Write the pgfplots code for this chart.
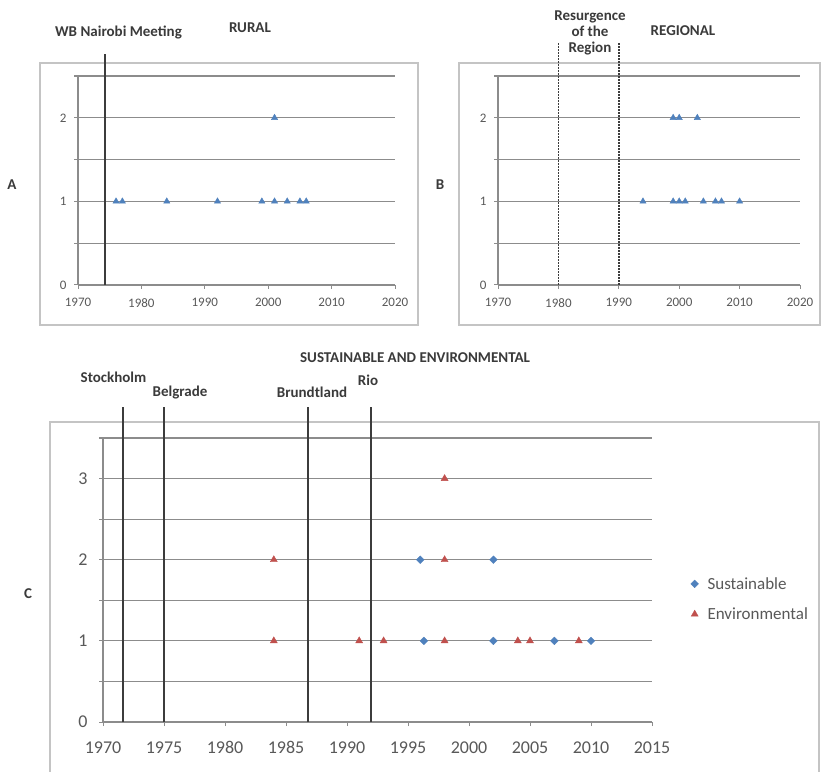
\documentclass[border=0pt]{standalone}
\usepackage{pgfplots}
\pgfplotsset{compat=1.18}
\usepackage{fontspec}
\setmainfont{Carlito}
\definecolor{xblue}{HTML}{4F81BD}
\definecolor{xred}{HTML}{C0504D}
\definecolor{gridc}{HTML}{8C8C8C}
\definecolor{txt}{HTML}{3A3A3A}
\definecolor{tickc}{HTML}{595959}
\definecolor{boxc}{HTML}{C4C4C4}
\definecolor{vlc}{HTML}{3C3C3C}

\pgfplotsset{
  excel/.style={
    scale only axis,
    axis x line*=bottom, axis y line*=left,
    axis line style={gridc, line width=1.2pt, -},
    tick align=outside,
    major tick length=4pt,
    minor tick length=4pt,
    tick style={gridc, line width=1pt},
    ymajorgrids, yminorgrids,
    major grid style={gridc, line width=1.2pt},
    minor grid style={gridc, line width=1.2pt},
    /pgf/number format/assume math mode=true,
    /pgf/number format/1000 sep={},
    ticklabel style={text=tickc},
    clip=false,
  },
  smallfont/.style={ticklabel style={font=\fontsize{13}{15}\selectfont},
    xticklabel style={yshift=-6pt}, yticklabel style={xshift=-4pt}},
  bigfont/.style={ticklabel style={font=\fontsize{18}{20}\selectfont},
    xticklabel style={yshift=-12pt}, yticklabel style={xshift=-8pt}},
  topgrid/.style={gridc, line width=1.2pt, forget plot},
}
\tikzset{ttl/.style={text=txt, font=\fontsize{15}{16}\selectfont\bfseries, inner sep=0pt}}

\begin{document}
\begin{tikzpicture}
\path[use as bounding box] (0,0) rectangle (821pt,771pt);
\fill[white] (0,0) rectangle (821pt,771pt);
% outer boxes
\draw[boxc, line width=1.5pt] (40pt,446pt) rectangle (418pt,708pt);
\draw[boxc, line width=1.5pt] (459pt,446pt) rectangle (820pt,708pt);
\draw[boxc, line width=1.5pt] (50pt,-5pt) rectangle (819pt,349pt);

% ---------- A: RURAL ----------
\begin{axis}[excel, smallfont, at={(78pt,486pt)}, anchor=south west,
  width=317pt, height=209pt,
  xmin=1970, xmax=2020, ymin=0, ymax=2.5,
  xtick={1970,1980,1990,2000,2010,2020},
  ytick={0,1,2}, minor ytick={0.5,1.5}]
\addplot[topgrid] coordinates {(1969.37,2.5) (2020,2.5)};
\addplot[vlc, line width=2pt] coordinates {(1974.3,0) (1974.3,2.76)};
\addplot[only marks, mark=triangle*, mark size=3.6pt, color=xblue]
  coordinates {(1976,1) (1977,1) (1984,1) (1992,1) (1999,1) (2001,1) (2003,1) (2005,1) (2006,1) (2001,2)};
\end{axis}

% ---------- B: REGIONAL ----------
\begin{axis}[excel, smallfont, at={(498pt,486pt)}, anchor=south west,
  width=302pt, height=209pt,
  xmin=1970, xmax=2020, ymin=0, ymax=2.5,
  xtick={1970,1980,1990,2000,2010,2020},
  ytick={0,1,2}, minor ytick={0.5,1.5}]
\addplot[topgrid] coordinates {(1969.34,2.5) (2020,2.5)};
\addplot[vlc, line width=1.8pt, dash pattern=on 1.5pt off 1.5pt] coordinates {(1980,0) (1980,2.9)};
\addplot[vlc, line width=1.8pt, dash pattern=on 1.5pt off 1.5pt] coordinates {(1990,0) (1990,2.9)};
\addplot[only marks, mark=triangle*, mark size=3.6pt, color=xblue]
  coordinates {(1994,1) (1999,1) (2000,1) (2001,1) (2004,1) (2006,1) (2007,1) (2010,1)
               (1999,2) (2000,2) (2003,2)};
\end{axis}

% ---------- C: SUSTAINABLE AND ENVIRONMENTAL ----------
\begin{axis}[excel, bigfont, at={(103pt,49pt)}, anchor=south west,
  width=549pt, height=284pt,
  xmin=1970, xmax=2015, ymin=0, ymax=3.5,
  xtick={1970,1975,1980,1985,1990,1995,2000,2005,2010,2015},
  ytick={0,1,2,3}, minor ytick={0.5,1.5,2.5},
  legend style={at={(1.065,0.433)}, anchor=west, draw=none, fill=none,
    font=\fontsize{17}{19}\selectfont, text=tickc, row sep=13pt,
    nodes={inner xsep=9pt}},
  legend cell align=left]
\addplot[only marks, mark=square*, mark options={rotate=45}, mark size=2.7pt, color=xblue]
  coordinates {(1996,2) (2002,2) (1996.3,1) (2002,1) (2007,1) (2010,1)};
\addlegendentry{Sustainable}
\addplot[only marks, mark=triangle*, mark size=4pt, color=xred]
  coordinates {(1998,3) (1984,2) (1998,2) (1984,1) (1991,1) (1993,1) (1998,1) (2004,1) (2005,1) (2009,1)};
\addlegendentry{Environmental}
\addplot[topgrid] coordinates {(1969.67,3.5) (2015,3.5)};
\addplot[vlc, line width=2pt, forget plot] coordinates {(1971.6,0) (1971.6,3.88)};
\addplot[vlc, line width=2pt, forget plot] coordinates {(1975,0) (1975,3.88)};
\addplot[vlc, line width=2pt, forget plot] coordinates {(1986.8,0) (1986.8,3.88)};
\addplot[vlc, line width=2pt, forget plot] coordinates {(1992,0) (1992,3.88)};
\end{axis}

% ---------- texts ----------
\node[ttl] at (118.5pt,738pt) {WB Nairobi Meeting};
\node[ttl] at (250pt,743pt) {RURAL};
\node[ttl, align=center] at (590pt,738.5pt) {Resurgence\\of the\\Region};
\node[ttl] at (683pt,740pt) {REGIONAL};
\node[ttl] at (12pt,586pt) {A};
\node[ttl] at (440pt,586pt) {B};
\node[ttl] at (28pt,177pt) {C};
\node[ttl] at (415pt,413pt) {SUSTAINABLE AND ENVIRONMENTAL};
\node[ttl] at (113.5pt,394pt) {Stockholm};
\node[ttl] at (180pt,378pt) {Belgrade};
\node[ttl] at (312pt,379pt) {Brundtland};
\node[ttl] at (368pt,391pt) {Rio};
\end{tikzpicture}
\end{document}
